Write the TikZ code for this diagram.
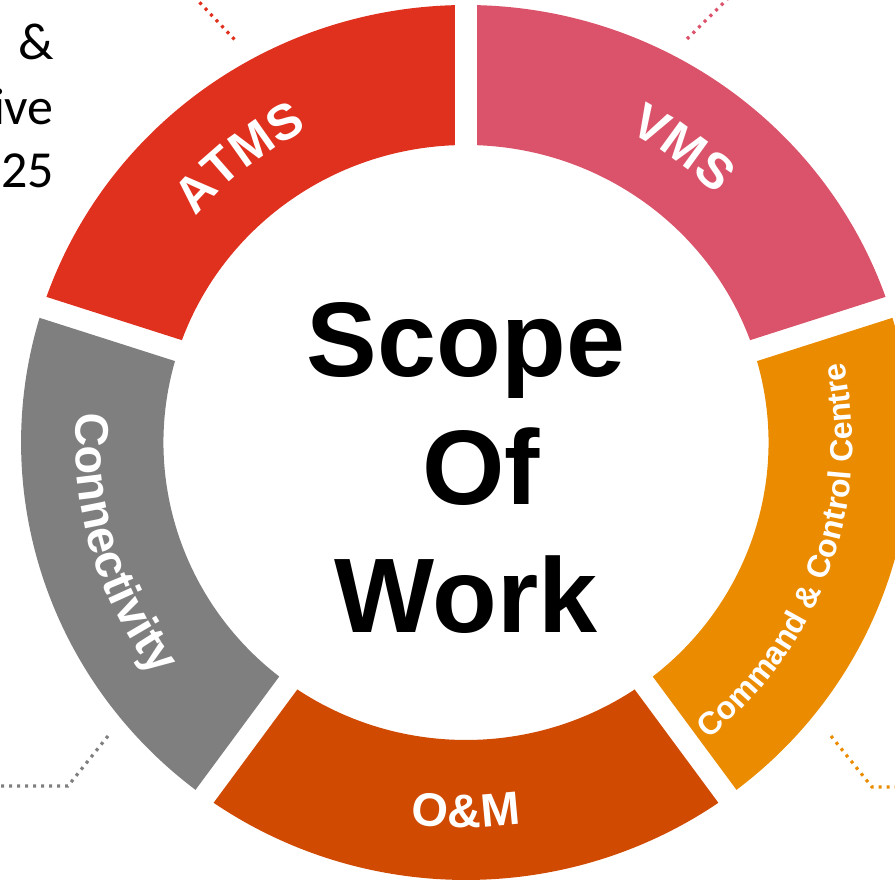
\documentclass[tikz,border=0pt]{standalone}
\usepackage{fontspec}
\setmainfont{Liberation Sans}
\newfontfamily\notefont{Carlito}
\usepackage{tikz}
\definecolor{atms}{HTML}{E0301E}
\definecolor{vms}{HTML}{DB536A}
\definecolor{ccc}{HTML}{EB8C00}
\definecolor{om}{HTML}{D04A02}
\definecolor{conn}{HTML}{7F7F7F}
\tikzstyle{leader}=[line width=3.2pt, dash pattern=on 3pt off 5pt]
\tikzstyle{bigword}=[anchor=base, inner sep=0pt, font=\fontsize{106}{127}\selectfont\bfseries]
\tikzstyle{note}=[anchor=base east, inner sep=0pt, font=\notefont\fontsize{52}{64}\selectfont]
\tikzstyle{letter}=[anchor=base, inner sep=0pt, text=white]
\newcommand{\Rout}{437.5}
\newcommand{\Rin}{297.5}
\newdimen\chw
\newdimen\arcpos
% one piece of the ring, from angle #1 to angle #2, colour #3
\newcommand{\ringpart}[3]{%
  \pgfmathsetmacro{\ao}{asin(11/\Rout)}%
  \pgfmathsetmacro{\ai}{asin(11/\Rin)}%
  \fill[#3] ({#1+\ao}:\Rout) arc[start angle={#1+\ao}, end angle={#2-\ao}, radius=\Rout]
    -- ({#2-\ai}:\Rin) arc[start angle={#2-\ai}, end angle={#1+\ai}, radius=\Rin] -- cycle;}
% width of one letter (fonts are off inside the picture)
\newcommand{\letterwidth}[2]{%
  \pgfinterruptpicture\settowidth{\chw}{\fontsize{#1}{#1}\selectfont\bfseries#2}\global\chw=\chw\endpgfinterruptpicture}
% white letters round an arc: name, centre angle, baseline radius, size, direction (1 ccw, -1 cw), letters
\newcommand{\ringlabel}[6]{%
  \global\arcpos=0pt
  \foreach \ch in {#6}{\letterwidth{#4}{\ch}\global\advance\arcpos by \chw}%
  \pgfmathsetmacro{\arcstart}{#2-(#5)*0.5*\arcpos/#3*180/pi}%
  \global\arcpos=0pt
  \foreach \ch [count=\k] in {#6}{%
    \letterwidth{#4}{\ch}%
    \pgfmathsetmacro{\chang}{\arcstart+(#5)*(\arcpos+0.5*\chw)/#3*180/pi}%
    \node[letter, font=\fontsize{#4}{#4}\selectfont\bfseries, rotate={\chang+(#5)*90}] (#1-\k) at (\chang:#3) {\ch};
    \global\advance\arcpos by \chw}}

\begin{document}
\begin{tikzpicture}[x=1.017pt, y=1pt]
\useasboundingbox (-466pt,-439.5pt) rectangle (429pt,442.5pt);
% ring
\ringpart{90}{162}{atms}
\ringpart{18}{90}{vms}
\ringpart{-54}{18}{ccc}
\ringpart{234}{306}{om}
\ringpart{162}{234}{conn}
% labels
\ringlabel{atmsl}{128}{349}{50}{-1}{A,T,M,S}
\ringlabel{vmsl}{54}{349}{50}{-1}{V,M,S}
\ringlabel{cccl}{-19.5}{380}{32}{1}{C,o,m,m,a,n,d,~,\&,~,C,o,n,t,r,o,l,~,C,e,n,t,r,e}
\ringlabel{oml}{270}{385}{47}{1}{O,\&,M}
\ringlabel{connl}{196.5}{384}{47}{1}{C,o,n,n,e,c,t,i,v,i,t,y}
% centre
\node[bigword] (scope) at (0pt,65.5pt) {Scope};
\node[bigword] (of) at (15pt,-62.5pt) {Of};
\node[bigword] (work) at (0pt,-190.5pt) {Work};
% text cut off at the left
\node[note] (notea) at (-412pt,382.5pt) {\&};
\node[note] (noteb) at (-412pt,317.5pt) {ive};
\node[note] (notec) at (-412pt,254.5pt) {25};
% leaders
\coordinate (atmsa) at (-272pt,446pt);
\coordinate (atmsb) at (-231pt,402.5pt);
\coordinate (vmsa) at (221pt,403.5pt);
\coordinate (vmsb) at (264pt,446pt);
\coordinate (conna) at (-358pt,-293.5pt);
\coordinate (connb) at (-398pt,-343.5pt);
\coordinate (connc) at (-470pt,-343.5pt);
\coordinate (ccca) at (365pt,-293.5pt);
\coordinate (cccb) at (406pt,-344.5pt);
\coordinate (cccc) at (433pt,-344.5pt);
\draw[leader, atms] (atmsa) -- (atmsb);
\draw[leader, vms] (vmsa) -- (vmsb);
\draw[leader, conn] (conna) -- (connb) -- (connc);
\draw[leader, ccc] (ccca) -- (cccb) -- (cccc);
\end{tikzpicture}
\end{document}
